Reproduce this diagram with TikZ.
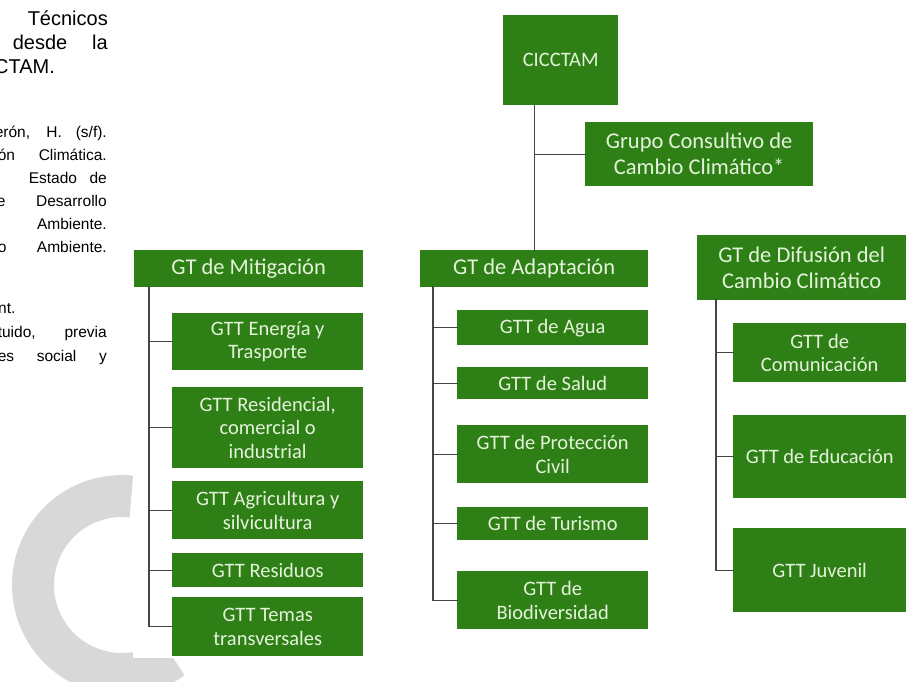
\documentclass[tikz,border=0pt]{standalone}
\usepackage{fontspec}
\setmainfont{Liberation Sans}
\newfontfamily\cajafont{Carlito}
\definecolor{verde}{RGB}{46,128,22}
\definecolor{claro}{RGB}{228,243,218}
\definecolor{gris}{RGB}{70,70,70}
\definecolor{marca}{RGB}{216,216,216}
\begin{document}
\begin{tikzpicture}[x=1pt,y=-1pt,line join=round,line cap=round,
  caja/.style={fill=verde,text=claro,align=center,inner sep=0pt,anchor=north west},
  grande/.style={font=\cajafont\fontsize{22.5}{26}\selectfont},
  chica/.style={font=\cajafont\fontsize{20.5}{23.5}\selectfont},
  rama/.style={draw=gris,line width=1.2pt,line cap=rect},
  texto/.style={font=\fontsize{20}{23}\selectfont,inner sep=0pt},
  nota/.style={font=\fontsize{15.5}{18}\selectfont,inner sep=0pt}]
\useasboundingbox (0,0) rectangle (918,681);
% marca de agua
\draw[marca,line width=42pt,line cap=butt] (122,585) ++(55:89) arc[start angle=55,end angle=276,radius=89];
\fill[white] (133,0) rectangle (918,658);
% texto recortado
\path (108,25) node[texto,anchor=base east]{Técnicos}
	(108,49) node[texto,anchor=base east]{\makebox[95pt][s]{desde la}}
	(-6,73) node[texto,anchor=base west]{CTAM.};
\path (107,137) node[nota,anchor=base east]{\makebox[112pt][s]{erón, H. (s/f).}}
	(107,160) node[nota,anchor=base east]{\makebox[109pt][s]{ón Climática.}}
	(107,183) node[nota,anchor=base east]{\makebox[78pt][s]{Estado de}}
	(107,206) node[nota,anchor=base east]{\makebox[110pt][s]{e Desarrollo}}
	(107,229) node[nota,anchor=base east]{Ambiente.}
	(107,252) node[nota,anchor=base east]{\makebox[109pt][s]{o Ambiente.}}
	(-2,313) node[nota,anchor=base west]{nt.}
	(107,337) node[nota,anchor=base east]{\makebox[109pt][s]{tuido, previa}}
	(107,361) node[nota,anchor=base east]{\makebox[109pt][s]{es social y}};
% cajas
\foreach \n/\x/\y/\w/\h/\f/\t in {
	cic/503/15/115/90/chica/CICCTAM,
	gcc/585/122/228/64/grande/{Grupo Consultivo de\\Cambio Climático*},
	gtm/134/250/229/37/grande/{GT de Mitigación},
	m1/172/313/191/57/chica/{GTT Energía y\\Trasporte},
	m2/172/387/191/81/chica/{GTT Residencial,\\comercial o\\industrial},
	m3/172/481/191/58/chica/{GTT Agricultura y\\silvicultura},
	m4/172/553/191/34/chica/{GTT Residuos},
	m5/172/597/191/59/chica/{GTT Temas\\transversales},
	gta/420/250/228/37/grande/{GT de Adaptación},
	a1/457/310/191/35/chica/{GTT de Agua},
	a2/457/367/191/32/chica/{GTT de Salud},
	a3/457/425/191/58/chica/{GTT de Protección\\Civil},
	a4/457/507/191/33/chica/{GTT de Turismo},
	a5/457/571/191/58/chica/{GTT de\\Biodiversidad},
	gtd/697/235/209/65/grande/{GT de Difusión del\\Cambio Climático},
	d1/733/323/173/59/chica/{GTT de\\Comunicación},
	d2/733/415/173/83/chica/{GTT de Educación},
	d3/733/528/173/84/chica/{GTT Juvenil}%
}{\node[caja,\f,minimum width=\w,minimum height=\h] (\n) at (\x,\y) {\t};}
% conectores
\draw[rama] (gta.north |- cic.south) -- (gta.north);
\draw[rama] (gta.north |- gcc.west) -- (gcc.west);
\coordinate (tm) at (149,287);
\coordinate (ta) at (433,287);
\coordinate (td) at (716,300);
\draw[rama] (tm) -- (tm |- m5.west);
\draw[rama] (ta) -- (ta |- a5.west);
\draw[rama] (td) -- (td |- d3.west);
\foreach \b in {m1,m2,m3,m4,m5}{\draw[rama] (tm |- \b.west) -- (\b.west);}
\foreach \b in {a1,a2,a3,a4,a5}{\draw[rama] (ta |- \b.west) -- (\b.west);}
\foreach \b in {d1,d2,d3}{\draw[rama] (td |- \b.west) -- (\b.west);}
\end{tikzpicture}
\end{document}
